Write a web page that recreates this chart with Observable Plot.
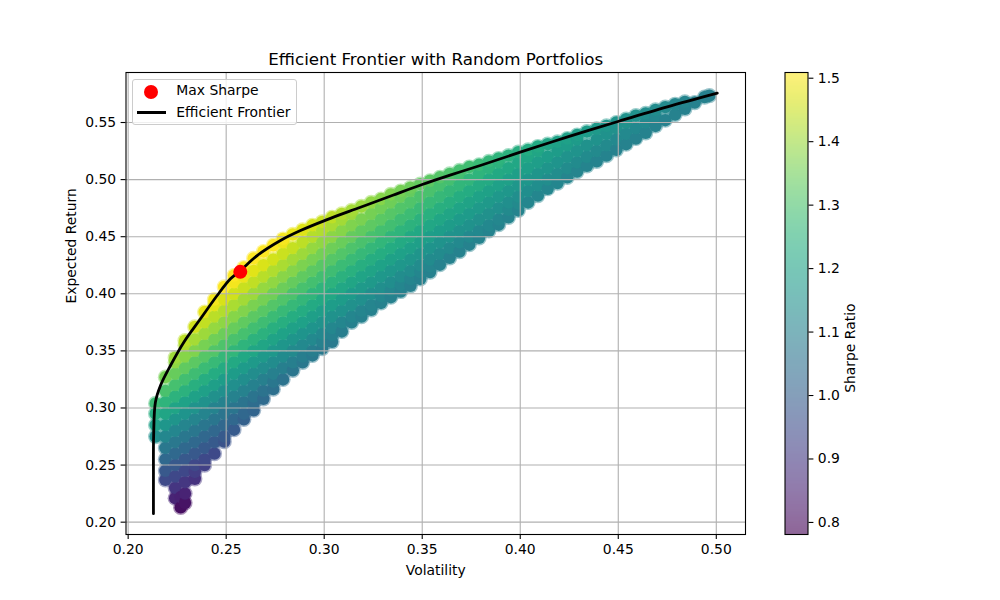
<!DOCTYPE html>
<html>
<head>
<meta charset="utf-8">
<script src="https://cdn.jsdelivr.net/npm/d3@7"></script>
<script src="https://cdn.jsdelivr.net/npm/@observablehq/plot@0.6"></script>
<style>
html, body { margin: 0; padding: 0; background: #fff; }
#fig { position: relative; width: 1000px; height: 600px; font-family: "DejaVu Sans", sans-serif; overflow: hidden; }
#fig svg { position: absolute; left: 0; top: 0; }
.lg { position: absolute; font-size: 13.9px; line-height: 16px; white-space: nowrap; color: #000; }
</style>
</head>
<body>
<div id="fig"></div>
<script>
// ---- data ----
const volColumns = [0.214, 0.219, 0.224, 0.2268, 0.229, 0.234, 0.239, 0.244, 0.249, 0.254, 0.259, 0.264, 0.269, 0.274, 0.279, 0.284, 0.289, 0.294, 0.299, 0.304, 0.309, 0.314, 0.319, 0.324, 0.329, 0.334, 0.339, 0.344, 0.349, 0.354, 0.359, 0.364, 0.369, 0.374, 0.379, 0.384, 0.389, 0.394, 0.399, 0.404, 0.409, 0.414, 0.419, 0.424, 0.429, 0.434, 0.439, 0.444, 0.449, 0.454, 0.459, 0.464, 0.469, 0.474, 0.479, 0.484, 0.489, 0.494, 0.4965];

const returnsByColumn = [
  [0.275, 0.285, 0.295, 0.304],
  [0.237, 0.245, 0.255, 0.265, 0.275, 0.285, 0.295, 0.305, 0.315, 0.327],
  [0.221, 0.23, 0.24, 0.25, 0.26, 0.27, 0.28, 0.29, 0.30, 0.31, 0.32, 0.33, 0.34, 0.344],
  [0.213, 0.222],
  [0.217, 0.225, 0.235, 0.245, 0.255, 0.265, 0.275, 0.285, 0.295, 0.305, 0.315, 0.325, 0.335, 0.345, 0.355, 0.359],
  [0.238, 0.244, 0.25, 0.26, 0.27, 0.28, 0.29, 0.30, 0.31, 0.32, 0.33, 0.34, 0.35, 0.36, 0.371],
  [0.250, 0.255, 0.265, 0.275, 0.285, 0.295, 0.305, 0.315, 0.325, 0.335, 0.345, 0.355, 0.365, 0.375, 0.384],
  [0.260, 0.27, 0.28, 0.29, 0.30, 0.31, 0.32, 0.33, 0.34, 0.35, 0.36, 0.37, 0.38, 0.39, 0.395],
  [0.2705, 0.275, 0.285, 0.295, 0.305, 0.315, 0.325, 0.335, 0.345, 0.355, 0.365, 0.375, 0.385, 0.395, 0.406],
  [0.281, 0.29, 0.30, 0.31, 0.32, 0.33, 0.34, 0.35, 0.36, 0.37, 0.38, 0.39, 0.40, 0.41, 0.416],
  [0.290, 0.295, 0.305, 0.315, 0.325, 0.335, 0.345, 0.355, 0.365, 0.375, 0.385, 0.395, 0.405, 0.415, 0.423],
  [0.298, 0.304, 0.31, 0.32, 0.33, 0.34, 0.35, 0.36, 0.37, 0.38, 0.39, 0.40, 0.41, 0.42, 0.431],
  [0.308, 0.315, 0.325, 0.335, 0.345, 0.355, 0.365, 0.375, 0.385, 0.395, 0.405, 0.415, 0.425, 0.437],
  [0.3165, 0.323, 0.33, 0.34, 0.35, 0.36, 0.37, 0.38, 0.39, 0.40, 0.41, 0.42, 0.43, 0.4425],
  [0.325, 0.335, 0.345, 0.355, 0.365, 0.375, 0.385, 0.395, 0.405, 0.415, 0.425, 0.435, 0.445, 0.448],
  [0.333, 0.34, 0.35, 0.36, 0.37, 0.38, 0.39, 0.40, 0.41, 0.42, 0.43, 0.44, 0.452],
  [0.340, 0.345, 0.355, 0.365, 0.375, 0.385, 0.395, 0.405, 0.415, 0.425, 0.435, 0.445, 0.456],
  [0.346, 0.35, 0.36, 0.37, 0.38, 0.39, 0.40, 0.41, 0.42, 0.43, 0.44, 0.45, 0.460],
  [0.352, 0.358, 0.365, 0.375, 0.385, 0.395, 0.405, 0.415, 0.425, 0.435, 0.445, 0.455, 0.463],
  [0.358, 0.364, 0.37, 0.38, 0.39, 0.40, 0.41, 0.42, 0.43, 0.44, 0.45, 0.46, 0.467],
  [0.367, 0.375, 0.385, 0.395, 0.405, 0.415, 0.425, 0.435, 0.445, 0.455, 0.465, 0.470],
  [0.375, 0.38, 0.39, 0.40, 0.41, 0.42, 0.43, 0.44, 0.45, 0.46, 0.47, 0.473],
  [0.380, 0.385, 0.395, 0.405, 0.415, 0.425, 0.435, 0.445, 0.455, 0.465, 0.4765],
  [0.386, 0.39, 0.40, 0.41, 0.42, 0.43, 0.44, 0.45, 0.46, 0.47, 0.480],
  [0.392, 0.398, 0.405, 0.415, 0.425, 0.435, 0.445, 0.455, 0.465, 0.475, 0.483],
  [0.397, 0.403, 0.41, 0.42, 0.43, 0.44, 0.45, 0.46, 0.47, 0.48, 0.487],
  [0.402, 0.408, 0.415, 0.425, 0.435, 0.445, 0.455, 0.465, 0.475, 0.485, 0.490],
  [0.407, 0.413, 0.42, 0.43, 0.44, 0.45, 0.46, 0.47, 0.48, 0.49, 0.493],
  [0.413, 0.419, 0.425, 0.435, 0.445, 0.455, 0.465, 0.475, 0.485, 0.496],
  [0.419, 0.424, 0.43, 0.44, 0.45, 0.46, 0.47, 0.48, 0.49, 0.499],
  [0.4255, 0.435, 0.445, 0.455, 0.465, 0.475, 0.485, 0.495, 0.502],
  [0.4315, 0.44, 0.45, 0.46, 0.47, 0.48, 0.49, 0.50, 0.505],
  [0.437, 0.445, 0.455, 0.465, 0.475, 0.485, 0.495, 0.505, 0.508],
  [0.443, 0.45, 0.46, 0.47, 0.48, 0.49, 0.50, 0.511],
  [0.449, 0.455, 0.465, 0.475, 0.485, 0.495, 0.505, 0.513],
  [0.455, 0.46, 0.47, 0.48, 0.49, 0.50, 0.51, 0.516],
  [0.4605, 0.465, 0.475, 0.485, 0.495, 0.505, 0.515, 0.5185],
  [0.467, 0.4735, 0.48, 0.49, 0.50, 0.51, 0.521],
  [0.473, 0.479, 0.485, 0.495, 0.505, 0.515, 0.524],
  [0.480, 0.49, 0.50, 0.51, 0.52, 0.526],
  [0.486, 0.495, 0.505, 0.515, 0.525, 0.529],
  [0.492, 0.50, 0.51, 0.52, 0.531],
  [0.497, 0.505, 0.515, 0.525, 0.533],
  [0.502, 0.51, 0.52, 0.53, 0.536],
  [0.507, 0.515, 0.525, 0.535, 0.539],
  [0.512, 0.52, 0.53, 0.542],
  [0.516, 0.525, 0.535, 0.5445],
  [0.521, 0.53, 0.54, 0.547],
  [0.526, 0.535, 0.545, 0.550],
  [0.531, 0.54, 0.55, 0.553],
  [0.536, 0.545, 0.556],
  [0.541, 0.55, 0.558],
  [0.547, 0.555, 0.561],
  [0.552, 0.5635],
  [0.557, 0.566],
  [0.562, 0.568],
  [0.5675],
  [0.5722],
  [0.5735]
];

const frontierVol = [0.2129, 0.2129, 0.2130, 0.2139, 0.2165, 0.2216, 0.2284, 0.2369, 0.2454, 0.2522, 0.2573, 0.2658, 0.2777, 0.2879, 0.3015, 0.3185, 0.3350, 0.3500, 0.3650, 0.3800, 0.4000, 0.4250, 0.4503, 0.4750, 0.5005];
const frontierRet = [0.2074, 0.2400, 0.2760, 0.3051, 0.3197, 0.3372, 0.3576, 0.3781, 0.3985, 0.4131, 0.4204, 0.4335, 0.4467, 0.4554, 0.4650, 0.4758, 0.4863, 0.4957, 0.5043, 0.5126, 0.5240, 0.5378, 0.5511, 0.5637, 0.5757];

const maxSharpeVol = [0.2572];
const maxSharpeRet = [0.4192];

const riskFree = 0.03;
const volTicks = [0.20, 0.25, 0.30, 0.35, 0.40, 0.45, 0.50];
const retTicks = [0.20, 0.25, 0.30, 0.35, 0.40, 0.45, 0.50, 0.55];
const sharpeTicks = [0.8, 0.9, 1.0, 1.1, 1.2, 1.3, 1.4, 1.5];
const sharpeDomain = [0.781, 1.509];
const legendLabels = ["Max Sharpe", "Efficient Frontier"];
const titleText = "Efficient Frontier with Random Portfolios";
const xLabel = "Volatility";
const yLabel = "Expected Return";
const colorLabel = "Sharpe Ratio";

// ---- tables built from the arrays ----
const portfolios = volColumns.flatMap((v, i) =>
  returnsByColumn[i].map(r => ({vol: v, ret: r, sharpe: (r - riskFree) / v})));
const frontier = frontierVol.map((v, i) => ({vol: v, ret: frontierRet[i]}));
const maxSharpe = maxSharpeVol.map((v, i) => ({vol: v, ret: maxSharpeRet[i]}));

const FS = 13.9;
const fig = document.getElementById("fig");

const main = Plot.plot({
  width: 1000, height: 600,
  marginLeft: 125.5, marginRight: 255, marginTop: 72, marginBottom: 66,
  style: {fontFamily: "DejaVu Sans, sans-serif", fontSize: FS + "px", background: "transparent", overflow: "visible"},
  x: {domain: [0.1989, 0.5149]},
  y: {domain: [0.1892, 0.5938]},
  color: {type: "linear", scheme: "viridis", domain: sharpeDomain, clamp: true},
  marks: [
    Plot.dot(portfolios, {x: "vol", y: "ret", r: 7.6, fill: "sharpe", stroke: "none", fillOpacity: 0.45}),
    Plot.dot(portfolios, {x: "vol", y: "ret", r: 6.2, fill: "sharpe", stroke: "none"}),
    Plot.gridX(volTicks, {stroke: "#b0b0b0", strokeOpacity: 1, strokeWidth: 1.1}),
    Plot.gridY(retTicks, {stroke: "#b0b0b0", strokeOpacity: 1, strokeWidth: 1.1}),
    Plot.line(frontier, {x: "vol", y: "ret", stroke: "black", strokeWidth: 2.8, curve: "catmull-rom"}),
    Plot.dot(maxSharpe, {x: "vol", y: "ret", r: 7, fill: "red", stroke: "none"}),
    Plot.frame({stroke: "black", strokeWidth: 1.1}),
    Plot.axisX(volTicks, {tickFormat: d => d.toFixed(2), tickSize: 4.9, tickPadding: 4.9, fontSize: FS, label: null, strokeWidth: 1.1}),
    Plot.axisY(retTicks, {tickFormat: d => d.toFixed(2), tickSize: 4.9, tickPadding: 4.9, fontSize: FS, label: null, strokeWidth: 1.1}),
    Plot.text([titleText], {text: d => d, frameAnchor: "top", dy: -8, lineAnchor: "bottom", fontSize: 16.7}),
    Plot.text([xLabel], {text: d => d, frameAnchor: "bottom", dy: 36, lineAnchor: "middle", fontSize: FS}),
    Plot.text([yLabel], {text: d => d, frameAnchor: "left", dx: -54.5, rotate: -90, lineAnchor: "middle", fontSize: FS})
  ]
});
fig.appendChild(main);

const cbar = Plot.plot({
  width: 1000, height: 600,
  marginLeft: 784.5, marginRight: 192.5, marginTop: 72, marginBottom: 66,
  style: {fontFamily: "DejaVu Sans, sans-serif", fontSize: FS + "px", background: "transparent", overflow: "visible"},
  x: {domain: [0, 1], axis: null},
  y: {domain: sharpeDomain},
  color: {type: "linear", scheme: "viridis", domain: sharpeDomain, clamp: true},
  marks: [
    Plot.raster({x1: 0, x2: 1, y1: sharpeDomain[0], y2: sharpeDomain[1], width: 1, height: 300,
                 fill: (x, y) => y, opacity: 0.6, imageRendering: "auto"}),
    Plot.frame({stroke: "black", strokeWidth: 1.1}),
    Plot.axisY(sharpeTicks, {anchor: "right", tickFormat: d => d.toFixed(1), tickSize: 4.9, tickPadding: 4.9, fontSize: FS, label: null, strokeWidth: 1.1}),
    Plot.text([colorLabel], {text: d => d, frameAnchor: "right", dx: 42.5, rotate: -90, lineAnchor: "middle", fontSize: FS})
  ]
});
fig.appendChild(cbar);

// ---- legend (HTML overlay) ----
function add(style, text) {
  const d = document.createElement("div");
  d.className = "lg";
  Object.assign(d.style, style);
  if (text) d.textContent = text;
  fig.appendChild(d);
  return d;
}
add({left: "132px", top: "79px", width: "165px", height: "46px", border: "1px solid #cccccc",
     borderRadius: "3px", background: "rgba(255,255,255,0.8)", boxSizing: "border-box"});
add({left: "144.3px", top: "85px", width: "14px", height: "14px", borderRadius: "50%", background: "red"});
add({left: "176.3px", top: "82.3px"}, legendLabels[0]);
add({left: "137.3px", top: "111.3px", width: "29px", height: "2.8px", background: "black"});
add({left: "176.3px", top: "103.5px"}, legendLabels[1]);
</script>
</body>
</html>
